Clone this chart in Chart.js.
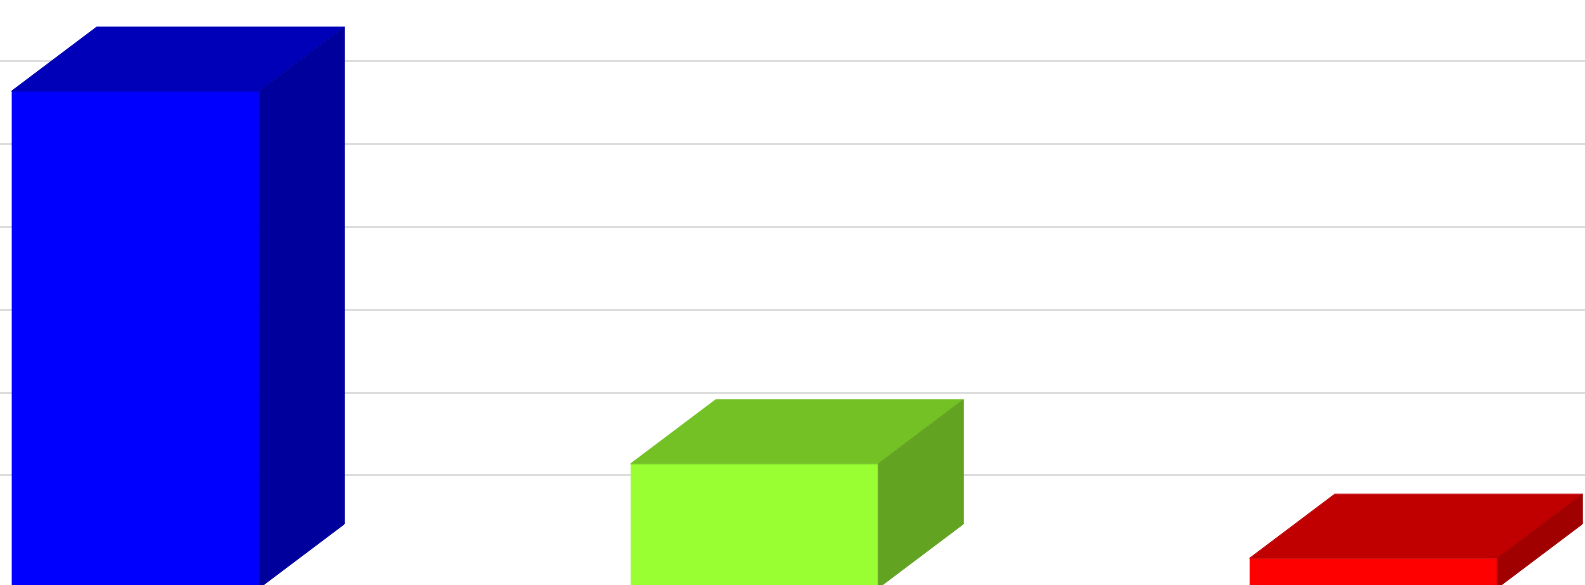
<!DOCTYPE html>
<html>
<head>
<meta charset="utf-8">
<script src="https://cdn.jsdelivr.net/npm/chart.js@4.4.0/dist/chart.umd.min.js"></script>
<style>
  html, body { margin: 0; padding: 0; background: #fff; overflow: hidden; }
  body { width: 1585px; height: 585px; position: relative; }
  #wrap { position: absolute; left: -174px; top: 0; width: 1857px; height: 588px; }
</style>
</head>
<body>
<div id="wrap"><canvas id="barChart"></canvas></div>
<script>
const categories = ['A', 'B', 'C'];
const values = [60, 15, 3.6];
const gridTicks = [13.6, 23.6, 33.6, 43.6, 53.6, 63.6];

const frontColors = ['#0000ff', '#99ff33', '#ff0000'];
const topColors = ['#0000b8', '#74c126', '#c00000'];
const sideColors = ['#00009c', '#63a322', '#a00000'];

// depth of the fake 3d boxes, in pixels
const DX = 85;
const DY = 64;

const box3d = {
  id: 'box3d',
  afterDatasetsDraw(chart) {
    const c = chart.ctx;
    chart.getDatasetMeta(0).data.forEach((bar, i) => {
      const { x, y, base, width } = bar.getProps(['x', 'y', 'base', 'width'], true);
      const l = x - width / 2, r = x + width / 2;
      c.save();
      c.lineWidth = 1;
      c.lineJoin = 'round';
      // top face
      c.fillStyle = c.strokeStyle = topColors[i];
      c.beginPath();
      c.moveTo(l, y);
      c.lineTo(l + DX, y - DY);
      c.lineTo(r + DX, y - DY);
      c.lineTo(r, y);
      c.closePath();
      c.fill();
      c.stroke();
      // side face
      c.fillStyle = c.strokeStyle = sideColors[i];
      c.beginPath();
      c.moveTo(r, y);
      c.lineTo(r + DX, y - DY);
      c.lineTo(r + DX, base - DY);
      c.lineTo(r, base);
      c.closePath();
      c.fill();
      c.stroke();
      c.restore();
    });
  }
};

new Chart(document.getElementById('barChart'), {
  type: 'bar',
  data: {
    labels: categories,
    datasets: [{
      data: values,
      backgroundColor: frontColors,
      borderWidth: 0,
      barPercentage: 0.4,
      categoryPercentage: 1
    }]
  },
  options: {
    responsive: true,
    maintainAspectRatio: false,
    animation: false,
    layout: { padding: 0 },
    plugins: {
      legend: { display: false },
      tooltip: { enabled: false }
    },
    scales: {
      x: { display: false },
      y: {
        min: 0,
        max: 71,
        afterBuildTicks: (scale) => {
          scale.ticks = gridTicks.map(v => ({ value: v }));
        },
        ticks: { display: false },
        border: { display: false },
        grid: {
          color: '#dcdcdc',
          lineWidth: 2,
          drawTicks: false,
          tickLength: 0
        }
      }
    }
  },
  plugins: [box3d]
});
</script>
</body>
</html>
